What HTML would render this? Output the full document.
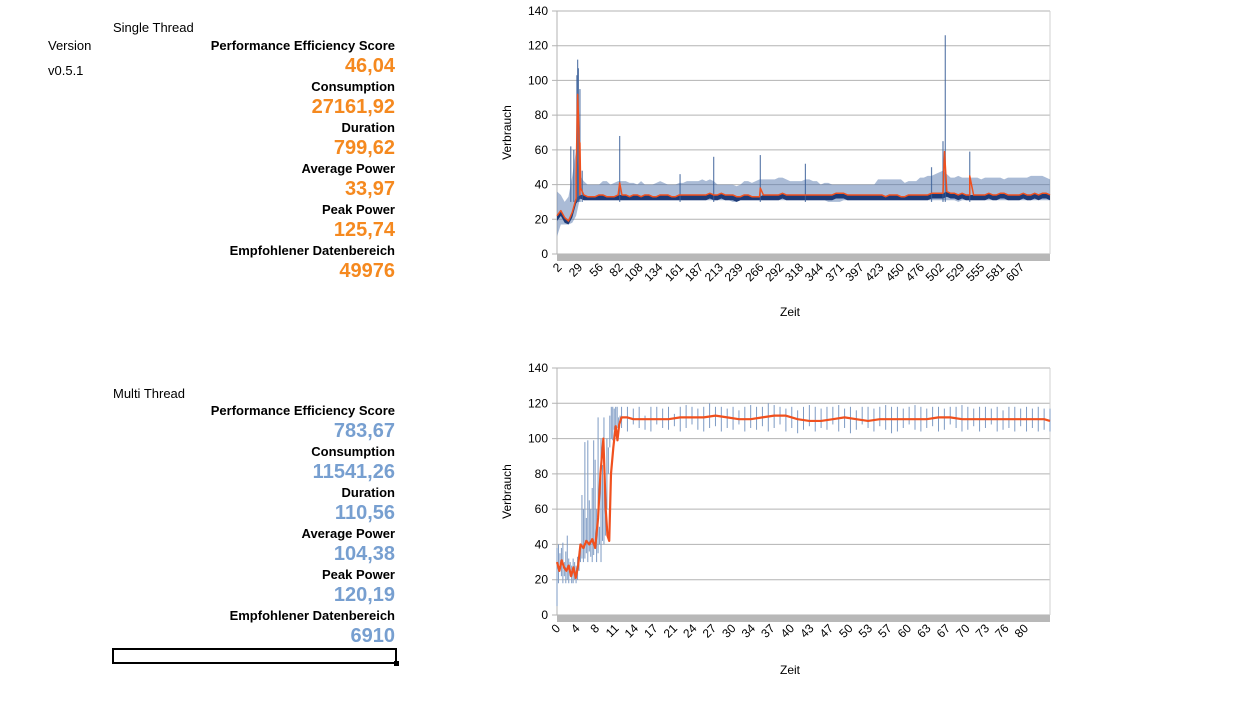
<!DOCTYPE html>
<html><head><meta charset="utf-8">
<style>
body{margin:0;width:1246px;height:714px;background:#fff;position:relative;overflow:hidden;font-family:"Liberation Sans",Arial,sans-serif}
.t{position:absolute;font-size:13px;color:#000;white-space:nowrap}
.l{position:absolute;right:851px;font-size:13px;font-weight:bold;color:#000;white-space:nowrap}
.v{position:absolute;right:851px;font-size:20px;font-weight:bold;white-space:nowrap}
.o{color:#f5891f}.b{color:#779fd0}
svg{position:absolute;left:0;top:0}
</style></head><body>
<div class="t" style="left:113px;top:20px">Single Thread</div>
<div class="t" style="left:48px;top:38px">Version</div>
<div class="t" style="left:48px;top:63px">v0.5.1</div>

<div class="l" style="top:38px">Performance Efficiency Score</div>
<div class="v o" style="top:55px">46,04</div>
<div class="l" style="top:79px">Consumption</div>
<div class="v o" style="top:96px">27161,92</div>
<div class="l" style="top:120px">Duration</div>
<div class="v o" style="top:137px">799,62</div>
<div class="l" style="top:161px">Average Power</div>
<div class="v o" style="top:178px">33,97</div>
<div class="l" style="top:202px">Peak Power</div>
<div class="v o" style="top:219px">125,74</div>
<div class="l" style="top:243px">Empfohlener Datenbereich</div>
<div class="v o" style="top:260px">49976</div>

<div class="t" style="left:113px;top:386px">Multi Thread</div>
<div class="l" style="top:403px">Performance Efficiency Score</div>
<div class="v b" style="top:420px">783,67</div>
<div class="l" style="top:444px">Consumption</div>
<div class="v b" style="top:461px">11541,26</div>
<div class="l" style="top:485px">Duration</div>
<div class="v b" style="top:502px">110,56</div>
<div class="l" style="top:526px">Average Power</div>
<div class="v b" style="top:543px">104,38</div>
<div class="l" style="top:567px">Peak Power</div>
<div class="v b" style="top:584px">120,19</div>
<div class="l" style="top:608px">Empfohlener Datenbereich</div>
<div class="v b" style="top:625px">6910</div>
<div style="position:absolute;left:112px;top:648px;width:281px;height:12px;border:2px solid #000"></div>
<div style="position:absolute;left:394px;top:661px;width:5px;height:5px;background:#000"></div>

<svg id="svg" width="1246" height="714" xmlns="http://www.w3.org/2000/svg"></svg>

<script>
// ---- Chart 1 (Single Thread) data ----
const ticks1 = [2,29,56,82,108,134,161,187,213,239,266,292,318,344,371,397,423,450,476,502,529,555,581,607];
const yTicks = [0,20,40,60,80,100,120,140];
// sampled every 5 time units from 0
const red1 = [22,25,21,19,24,32,34,34,33,33,33,34,34,33,33,33,34,34,34,33,34,34,33,34,34,33,33,34,34,34,33,33,34,34,34,34,34,34,34,34,35,34,34,35,34,34,34,33,33,34,34,33,33,33,34,34,34,34,34,35,34,34,34,34,34,34,34,34,34,34,34,34,34,35,35,35,34,34,34,34,34,34,34,34,34,34,33,34,34,34,33,33,34,34,34,34,34,34,35,35,35,35,36,35,35,34,35,34,34,34,34,34,34,35,34,34,35,35,34,34,34,34,35,34,34,35,34,35,35,34];
const hi1 = [36,34,30,33,45,60,45,42,40,40,40,40,42,42,40,41,42,42,42,41,41,40,42,40,40,40,41,42,41,40,40,40,41,41,42,42,42,42,43,42,43,42,40,40,40,40,40,39,40,42,42,41,42,43,43,43,43,43,44,44,43,42,42,42,42,43,43,42,42,40,41,41,40,40,40,40,40,40,40,40,40,40,40,40,43,43,43,43,43,43,43,41,42,42,42,44,44,45,45,46,47,48,46,44,44,45,44,44,44,44,44,43,44,44,44,44,44,43,44,44,44,44,44,44,45,45,45,45,44,43];
const lo1 = [10,17,17,17,18,22,32,31,31,31,31,31,31,31,31,31,31,31,31,31,31,31,31,31,31,31,31,31,31,31,31,31,31,31,31,31,31,31,31,31,31,31,31,31,31,31,30,30,31,31,31,31,31,31,31,31,31,31,31,31,31,31,31,31,31,31,31,31,31,31,31,30,30,30,30,31,31,31,31,31,31,31,31,31,31,31,31,31,31,31,31,31,31,31,31,31,31,31,31,31,31,31,31,31,31,30,31,31,31,31,31,31,31,31,31,31,31,31,31,31,31,31,31,31,31,31,31,31,31,31];
const blueSpikeT1 = [18,22,26,27,28,30,33,82,161,205,266,325,490,505,508,540];
const blueSpikeV1 = [62,60,103,112,107,95,48,68,46,56,57,52,50,65,126,59];
const redSpikeT1 = [25,27,28,29,30,31,82,266,507,540];
const redSpikeV1 = [45,92,80,64,64,38,41,38,59,45];

// ---- Chart 2 (Multi Thread) data ----
const ticks2 = [0,4,8,11,14,17,21,24,27,30,34,37,40,43,47,50,53,57,60,63,67,70,73,76,80];
const t2 = [0,0.4,0.8,1.2,1.6,2,2.4,2.8,3.2,3.6,4,4.5,5,5.5,6,6.5,7,7.4,7.9,8.3,8.6,8.9,9.2,9.6,10,10.3,10.6,11,12,13,15,17,19,21,23,25,27,29,31,33,35,37,39,41,43,45,47,49,51,53,55,57,59,61,63,65,67,69,71,73,75,77,79,81,83,84];
const red2 = [30,25,31,27,25,28,22,27,21,28,40,38,42,40,43,38,55,80,100,60,45,42,80,95,107,99,108,112,112,111,111,111,111,112,112,112,113,112,111,111,112,113,113,111,110,110,111,112,111,110,111,111,111,111,111,112,112,111,111,111,111,111,111,111,111,110];
// blue samples: early part every 0.25 from t=0 to 11, then every 1 from t=12 to 84
const blueHiEarly = [38,40,35,38,41,30,36,45,32,30,28,32,30,28,33,36,40,68,60,98,55,99,65,60,72,99,88,60,112,50,100,85,112,70,100,95,113,118,118,117,118,118,112,113,118];
const blueLoEarly = [5,18,25,22,18,22,18,20,18,22,18,18,20,18,20,25,30,32,30,32,35,30,36,33,30,34,38,30,35,40,30,42,40,45,60,80,95,100,99,105,104,106,105,110,106];
const blueHiLate = [118,117,118,113,118,118,117,118,114,118,119,118,117,118,120,118,118,117,118,116,118,119,118,118,120,119,118,117,118,116,118,119,118,117,118,118,119,117,118,116,118,118,117,118,119,118,118,117,118,119,118,117,118,118,117,118,118,119,118,117,118,118,117,118,116,118,118,117,118,117,118,117,117];
const blueLoLate = [104,108,106,105,104,108,106,105,107,104,106,108,105,104,106,107,104,106,105,108,104,106,105,107,104,106,108,104,106,103,105,107,104,106,105,108,104,106,103,105,108,106,104,107,105,103,104,106,108,105,104,106,107,104,105,108,106,104,105,107,104,106,108,104,105,106,104,107,104,106,104,105,104];

const svg = document.getElementById('svg');
const NS = 'http://www.w3.org/2000/svg';
function mk(tag, attrs, parent){const e=document.createElementNS(NS,tag);for(const k in attrs)e.setAttribute(k,attrs[k]);(parent||svg).appendChild(e);return e;}

function chart(cfg){
  const g = mk('g',{});
  
  
  const X0=557, X1=1050, Y0=cfg.y0, Y1=cfg.y1;
  const sx = v => X0 + (v - cfg.dmin)/(cfg.dmax - cfg.dmin)*(X1-X0);
  const sy = v => Y0 - v/140*(Y0-Y1);
  yTicks.forEach(v=>{
    const ln = mk('line',{x1:X0-5,x2:X1,y1:sy(v),y2:sy(v),stroke:'#b3b3b3','stroke-width':1},g);
    
    
    const tx = mk('text',{x:X0-9,y:sy(v)+4,'text-anchor':'end','font-size':12,fill:'#000','font-family':'Liberation Sans, sans-serif'},g);
    tx.textContent=v;
    
    
  });
  mk('line',{x1:X0,x2:X0,y1:Y1,y2:Y0,stroke:'#b3b3b3'},g);
  mk('line',{x1:X1,x2:X1,y1:Y1,y2:Y0,stroke:'#d0d0d0'},g);
  const floor = mk('rect',{x:X0,y:Y0,width:X1-X0,height:7,fill:'#b8b8b8'},g);
  
  
  if(cfg.band){
    const ts = cfg.t;
    const pts = ts.map((t,i)=>sx(t)+','+sy(cfg.hi[i])).join(' ')+' '+ts.slice().reverse().map((t,j)=>{const i=ts.length-1-j;return sx(t)+','+sy(cfg.lo[i]);}).join(' ');
    const band = mk('polygon',{points:pts,fill:'#5577ad','fill-opacity':0.5},g);
    
    
    const dp = ts.map((t,i)=>sx(t)+','+sy(Math.min(cfg.red[i],cfg.hi[i]))).join(' ')+' '+ts.slice().reverse().map((t,j)=>{const i=ts.length-1-j;return sx(t)+','+sy(Math.max(cfg.lo[i],cfg.red[i]-3));}).join(' ');
    const dk = mk('polygon',{points:dp,fill:'#1d3b78'},g);
    
    
  }
  if(cfg.vT){
    cfg.vT.forEach((t,i)=>{
      const l=mk('line',{x1:sx(t),x2:sx(t),y1:sy(cfg.vHi[i]),y2:sy(cfg.vLo[i]),stroke:'#7e9bc4','stroke-width':1},g);
      
      
    });
  }
  if(cfg.spT){
    cfg.spT.forEach((t,i)=>{
      const l=mk('line',{x1:sx(t),x2:sx(t),y1:sy(cfg.spV[i]),y2:sy(30),stroke:'#3a5f98','stroke-width':1.2,'stroke-opacity':0.8},g);
      
      
    });
  }
  let rp = cfg.t.map((t,i)=>[t,cfg.red[i]]);
  if(cfg.rsT){ cfg.rsT.forEach((t,i)=>rp.push([t,cfg.rsV[i]])); rp.sort((a,b)=>a[0]-b[0]); }
  const line = mk('polyline',{points:rp.map(p=>sx(p[0])+','+sy(p[1])).join(' '),fill:'none',stroke:'#f0501e','stroke-width':cfg.rw,'stroke-linejoin':'round'},g);
  
  
  cfg.ticks.forEach((v,i)=>{
    const x = cfg.tickX(v,i,sx);
    const tx = mk('text',{x:x+4,y:Y0+14,'text-anchor':'end','font-size':12,fill:'#000','font-family':'Liberation Sans, sans-serif',transform:`rotate(-45 ${x+4} ${Y0+14})`},g);
    tx.textContent=v;
    
    
  });
  const yt = mk('text',{x:0,y:0,'text-anchor':'middle','font-size':12,fill:'#000','font-family':'Liberation Sans, sans-serif',transform:`translate(511 ${(Y0+Y1)/2}) rotate(-90)`},g);
  yt.textContent='Verbrauch';
  
  
  const xt = mk('text',{x:790,y:cfg.xtY,'text-anchor':'middle','font-size':12,fill:'#000','font-family':'Liberation Sans, sans-serif'},g);
  xt.textContent='Zeit';
  
  
}

const t1 = red1.map((_,i)=>i*5);
chart({name:'single-thread-chart',y0:254,y1:11,dmin:0,dmax:645,t:t1,red:red1,hi:hi1,lo:lo1,band:true,
  spT:blueSpikeT1,spV:blueSpikeV1,rsT:redSpikeT1,rsV:redSpikeV1,rw:1.5,
  ticks:ticks1,tickX:(v,i,sx)=>sx(v),xtY:316});

const bT2 = blueHiEarly.map((_,i)=>i*0.25).concat(blueHiLate.map((_,i)=>12+i));
chart({name:'multi-thread-chart',y0:615,y1:368,dmin:0,dmax:84,t:t2,red:red2,band:false,
  vT:bT2,vHi:blueHiEarly.concat(blueHiLate),vLo:blueLoEarly.concat(blueLoLate),rw:2.2,
  ticks:ticks2,tickX:(v,i,sx)=>557+i*19.5,xtY:674});
</script>
</body></html>
